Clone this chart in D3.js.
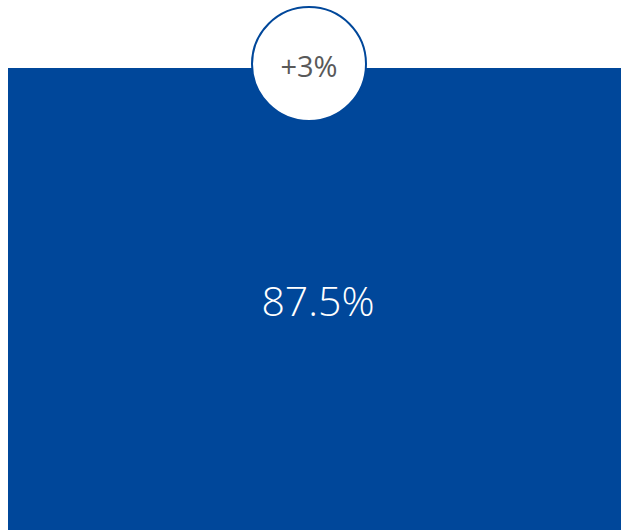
<!DOCTYPE html>
<html>
<head>
<meta charset="utf-8">
<script src="https://cdn.jsdelivr.net/npm/d3@7"></script>
<style>
  body { margin: 0; background: #fff; }
  svg { display: block; }
</style>
</head>
<body>
<div id="chart"></div>
<script>
// values
const labels = ["87.5%"];
const values = [87.5];
const changes = [3];

const width = 621, height = 530;
const blue = "#00479a";

const svg = d3.select("#chart")
  .append("svg")
  .attr("width", width)
  .attr("height", height);

// panel (one band spanning the area)
const x = d3.scaleBand()
  .domain(labels)
  .range([8, width + 2])
  .padding(0);

svg.selectAll("rect.panel")
  .data(values)
  .enter().append("rect")
  .attr("class", "panel")
  .attr("x", (d, i) => x(labels[i]))
  .attr("y", 68)
  .attr("width", x.bandwidth())
  .attr("height", height - 68 + 2)
  .attr("fill", blue);

svg.selectAll("text.value")
  .data(values)
  .enter().append("text")
  .attr("class", "value")
  .attr("x", 318)
  .attr("y", 316)
  .attr("text-anchor", "middle")
  .style("font-family", "'Open Sans', sans-serif")
  .style("font-weight", 300)
  .style("font-size", "41px")
  .style("fill", "#fff")
  .text((d, i) => labels[i]);

// change badge
const badge = svg.selectAll("g.badge")
  .data(changes)
  .enter().append("g")
  .attr("class", "badge")
  .attr("transform", "translate(309,64)");

badge.append("circle")
  .attr("r", 57)
  .attr("fill", "#fff")
  .attr("stroke", blue)
  .attr("stroke-width", 2);

badge.append("text")
  .attr("y", 13)
  .attr("text-anchor", "middle")
  .style("font-family", "'Open Sans', sans-serif")
  .style("font-size", "29px")
  .style("fill", "#595959")
  .text(d => (d > 0 ? "+" : "") + d + "%");
</script>
</body>
</html>
